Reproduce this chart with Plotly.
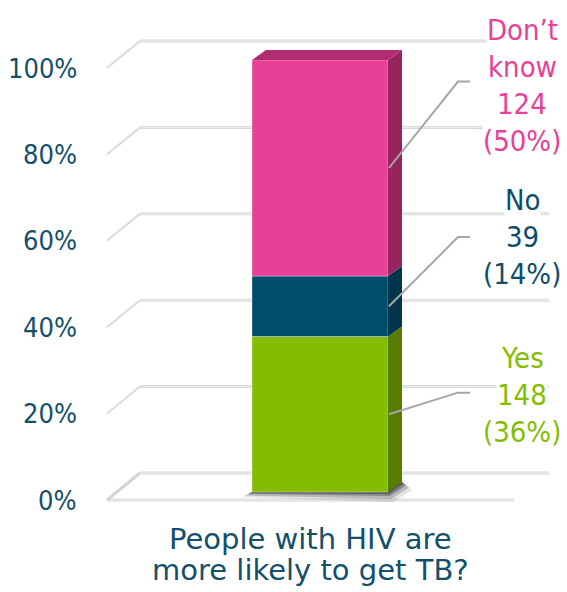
import plotly.graph_objects as go

# ---------------- data ----------------
category = "People with HIV are more likely to get TB?"
category_lines = ["People with HIV are", "more likely to get TB?"]
series_names = ["Yes", "No", "Don\u2019t know"]
counts = [148, 39, 124]
percents = [36, 14, 50]
front_colors = ["#84bd00", "#004c6b", "#e83f97"]
side_colors = ["#567c00", "#00354c", "#98245f"]
label_colors = ["#84bd00", "#0e4e69", "#e83f97"]
tick_vals = [0, 20, 40, 60, 80, 100]
tick_text = ["0%", "20%", "40%", "60%", "80%", "100%"]
elbow_rise = [5, 16, 20]          # leader-line elbow rise (in % units)
label_centers = [395, 237, 88]     # pixel y of label middle line

# ---------------- geometry (pixel based) ----------------
W, H = 567, 592
S = 4.32                    # pixels per percent
Y0 = 492                    # pixel of 0% on bar front plane
def v(py):                  # pixel y -> data units
    return (Y0 - py) / S

FONT_C = "DejaVu Sans Condensed"
FONT = "DejaVu Sans"
TEXT = "#12506b"

bar_x, bar_w = 320, 136
xl, xr = bar_x - bar_w / 2, bar_x + bar_w / 2
ddx, ddy = 14, 10 / S       # bar depth offset
floor_front = v(500)
floor_back = v(473)
wall_dy = floor_back
fx0, bx0, bx1, fx1 = 107, 140, 549, 514

fig = go.Figure()
shapes = []

# floor and back-wall gridlines
for t in tick_vals:
    yb = t + wall_dy
    yf = t + floor_front
    shapes.append(dict(type="line", x0=bx0, x1=bx1, y0=yb, y1=yb,
                       line=dict(color="#d9d9d9", width=3), layer="below"))
    shapes.append(dict(type="line", x0=bx0, x1=bx1, y0=yb, y1=yb,
                       line=dict(color="#eeeeee", width=1), layer="below"))
    shapes.append(dict(type="line", x0=fx0, x1=bx0, y0=yf, y1=yb,
                       line=dict(color="#dadada", width=2), layer="below"))
# floor front line
shapes.append(dict(type="line", x0=fx0, x1=fx1, y0=floor_front, y1=floor_front,
                   line=dict(color="#d9d9d9", width=3), layer="below"))
shapes.append(dict(type="line", x0=fx0, x1=fx1, y0=floor_front, y1=floor_front,
                   line=dict(color="#eeeeee", width=1), layer="below"))
shapes.append(dict(type="line", x0=fx0, x1=bx0, y0=floor_front, y1=floor_back,
                   line=dict(color="#d4d4d4", width=3), layer="below"))

# bar shadow (soft)
for k, a in [(10, 0.12), (7, 0.22), (4, 0.32), (2, 0.4)]:
    sh = k / S
    shapes.append(dict(type="path",
                       path=f"M {xl-k},{-sh*0.5} L {xl},{0} L {xr+ddx},{ddy} L {xr+ddx+k},{ddy-sh*0.8} L {xr+k*0.5},{-sh} Z",
                       fillcolor=f"rgba(30,30,30,{a})", line=dict(width=0), layer="below"))

# stacked front faces
base = 0
for name, p, fc, sc in zip(series_names, percents, front_colors, side_colors):
    fig.add_trace(go.Bar(x=[bar_x], y=[p], base=[base], width=bar_w, name=name,
                         marker=dict(color=fc, line=dict(color="rgba(255,255,255,0.35)", width=1)),
                         showlegend=False, hoverinfo="skip"))
    top = base + p
    shapes.append(dict(type="path",
                       path=f"M {xr},{base} L {xr+ddx},{base+ddy} L {xr+ddx},{top+ddy} L {xr},{top} Z",
                       fillcolor=sc, line=dict(width=0)))
    base = top
# top face
shapes.append(dict(type="path",
                   path=f"M {xl},{base} L {xl+ddx},{base+ddy} L {xr+ddx},{base+ddy} L {xr},{base} Z",
                   fillcolor="#b02b71", line=dict(width=0)))

# leader lines and labels
annotations = []
base = 0
for name, c, p, col, rise, cy in zip(series_names, counts, percents, label_colors, elbow_rise, label_centers):
    mid = base + p / 2
    ex = 458
    shapes.append(dict(type="path",
                       path=f"M {xr+1},{mid} L {ex},{mid+rise} L {ex+12},{mid+rise}",
                       line=dict(color="#a6a6a6", width=2)))
    lines = name.split(" ") if name.startswith("Don") else [name]
    lines = lines + [str(c), f"({p}%)"]
    n = len(lines)
    for i, ln in enumerate(lines):
        py = cy + (i - (n - 1) / 2) * 37 if n == 3 else 30 + i * 37
        annotations.append(dict(x=522, y=v(py), text=ln, showarrow=False,
                                xanchor="center", yanchor="middle",
                                font=dict(family=FONT_C, size=29, color=col),
                                bgcolor="white", borderpad=0))
    base += p

# y tick labels on the front plane
for t, tt in zip(tick_vals, tick_text):
    annotations.append(dict(x=79, y=t + floor_front, text=tt, showarrow=False,
                            xanchor="right", yanchor="middle",
                            font=dict(family=FONT_C, size=27, color=TEXT)))

# category label
for i, ln in enumerate(category_lines):
    annotations.append(dict(x=310, y=v(539 + i * 31), text=ln, showarrow=False,
                            xanchor="center", yanchor="middle",
                            font=dict(family=FONT, size=29, color=TEXT)))

fig.update_layout(
    width=W, height=H, margin=dict(l=0, r=0, t=0, b=0),
    paper_bgcolor="white", plot_bgcolor="white",
    barmode="overlay",
    xaxis=dict(range=[0, W], visible=False, fixedrange=True),
    yaxis=dict(range=[v(H), v(0)], visible=False, fixedrange=True),
    shapes=shapes, annotations=annotations,
)
fig.write_html("out.html")
